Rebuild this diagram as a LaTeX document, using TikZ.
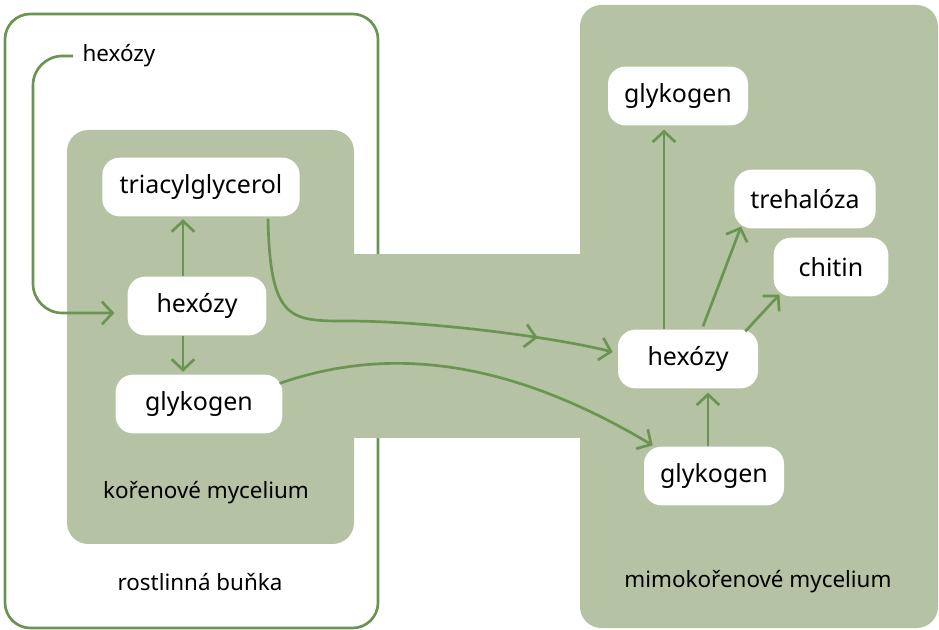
\documentclass[tikz,border=0pt]{standalone}
\usepackage{fontspec}
\setmainfont{Noto Sans}
\usetikzlibrary{arrows.meta,decorations.markings}
\definecolor{myceliumfill}{RGB}{181,194,164}
\definecolor{linegreen}{RGB}{106,148,82}
\begin{document}
\begin{tikzpicture}[x=0.75pt, y=-0.75pt,
                nd/.style={fill=white, rounded corners=13pt, minimum height=44pt, inner sep=0pt, font=\fontsize{18.7}{21}\selectfont},
                lbl/.style={inner sep=1pt, font=\fontsize{16.8}{19}\selectfont},
                ar/.style={line width=2pt, draw=linegreen, -{Straight Barb[length=8pt, width=17pt, line width=2pt]}}
            ]
            \useasboundingbox (0,0) rectangle (939,630);
            % areas
            \draw[line width=2pt, draw=linegreen, rounded corners=19pt] (5,14) rectangle (378,628);
            \fill[myceliumfill, rounded corners=16pt] (67,130) rectangle (354,544);
            \fill[myceliumfill, rounded corners=16pt] (580,5) rectangle (938,628);
            \fill[myceliumfill] (354,254) rectangle (581,438);
            \node[lbl] (rootlbl)  at (206,493) {kořenové mycelium};
            \node[lbl] (celllbl)  at (200,582) {rostlinná buňka};
            \node[lbl] (extralbl) at (758,582) {mimokořenové mycelium};
            % root mycelium
            \node[lbl, inner xsep=7pt] (hexT) at (119,56) {hexózy};
            \node[nd, minimum width=148pt] (tag)  at (201,187) {triacylglycerol};
            \node[nd, minimum width=104pt] (hexL) at (197,306) {hexózy};
            \node[nd, minimum width=125pt] (glyL) at (199,404) {glykogen};
            % extraradical mycelium
            \node[nd, minimum width=105pt] (glyT) at (678,96)  {glykogen};
            \node[nd, minimum width=106pt] (treh) at (805,199) {trehalóza};
            \node[nd, minimum width=86pt]  (chit) at (831,267) {chitin};
            \node[nd, minimum width=105pt] (hexR) at (688,359) {hexózy};
            \node[nd, minimum width=105pt] (glyR) at (714,476) {glykogen};
            \coordinate (colL)  at (183,0);
            \coordinate (colR1) at (664,0);
            \coordinate (colR2) at (708,0);
            \coordinate (bend)  at (33,313);
            % arrows
            \draw[ar, rounded corners=22pt] (hexT.west) -| (bend) -- ([shift={(-13,7)}]hexL.west);
            \draw[ar] (hexL.north -| colL) -- ([yshift=-2pt]tag.south -| colL);
            \draw[ar] (hexL.south -| colL) -- ([yshift=2pt]glyL.north -| colL);
            \draw[ar, postaction={decorate}, decoration={markings,
                  mark=at position 0.82 with {\arrow{Straight Barb[length=8pt, width=17pt, line width=2pt]}}}]
                ([shift={(67,2)}]tag.south) .. controls (270,320) and (290,321) .. (345,321)
                .. controls (430,321) and (553,337) .. ([shift={(-5,-7)}]hexR.west);
            \draw[ar] ([shift={(-3,9)}]glyL.north east) .. controls (390,345) and (510,360) .. ([shift={(9,-1)}]glyR.north west);
            \draw[ar] (glyR.north -| colR2) -- ([yshift=-3pt]hexR.south -| colR2);
            \draw[ar] (hexR.north -| colR1) -- ([yshift=-3pt]glyT.south -| colR1);
            \draw[ar] ([shift={(15,-3)}]hexR.north) -- ([shift={(7,-2)}]treh.south west);
            \draw[ar] ([shift={(-13,2)}]hexR.north east) -- ([shift={(6,-2)}]chit.south west);
            \end{tikzpicture}
\end{document}
